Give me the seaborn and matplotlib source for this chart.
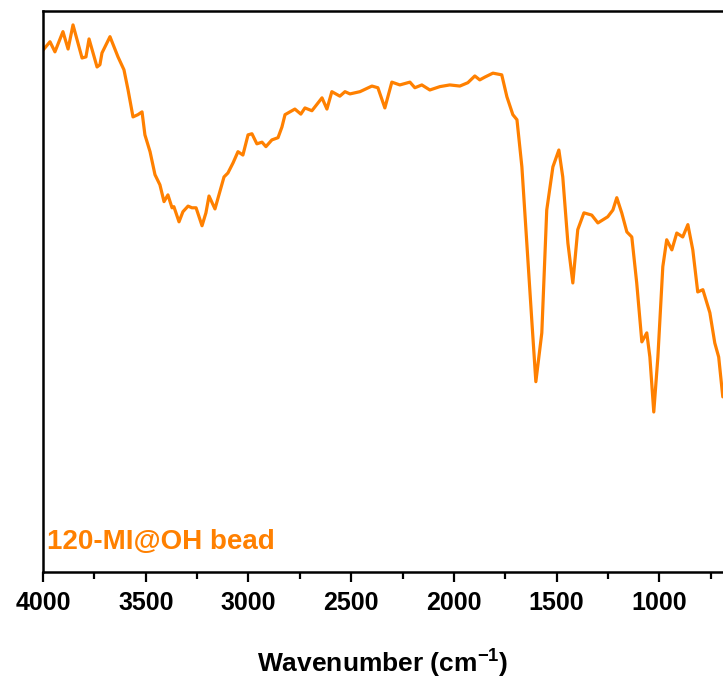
import pandas as pd
import matplotlib.pyplot as plt
import seaborn as sns

# FTIR spectrum of 120-MI@OH bead
wavenumber = [
    4000, 3966, 3942, 3903, 3878, 3854, 3810, 3791, 3776, 3737, 3723, 3713, 3674,
    3635, 3606, 3586, 3562, 3538, 3518, 3504, 3479, 3455, 3431, 3411, 3392, 3372,
    3363, 3338, 3319, 3294, 3275, 3255, 3226, 3207, 3192, 3163, 3119, 3100, 3075,
    3051, 3027, 3002, 2983, 2959, 2934, 2915, 2886, 2856, 2837, 2822, 2774, 2745,
    2725, 2691, 2642, 2618, 2594, 2555, 2530, 2506, 2457, 2399, 2370, 2336, 2302,
    2263, 2214, 2190, 2156, 2117, 2068, 2020, 1971, 1932, 1898, 1874, 1849, 1810,
    1767, 1742, 1713, 1693, 1669, 1645, 1620, 1601, 1572, 1548, 1518, 1489, 1470,
    1445, 1421, 1397, 1367, 1329, 1299, 1251, 1226, 1207, 1183, 1158, 1134, 1110,
    1085, 1061, 1046, 1027, 1007, 983, 964, 939, 915, 886, 861, 837, 813, 788,
    754, 730, 711, 691,
]
transmittance = [
    93.0, 94.5, 92.7, 96.3, 93.2, 97.5, 91.6, 91.8, 95.0, 90.0, 90.4, 92.5, 95.4,
    91.8, 89.5, 85.9, 81.1, 81.5, 82.0, 77.9, 74.9, 70.8, 69.0, 66.0, 67.2, 64.9,
    65.1, 62.4, 64.2, 65.2, 64.9, 64.9, 61.7, 64.0, 67.0, 64.7, 70.4, 71.1, 72.9,
    74.9, 74.3, 77.9, 78.1, 76.3, 76.6, 75.8, 77.0, 77.4, 79.3, 81.5, 82.5, 81.6,
    82.7, 82.2, 84.5, 82.5, 85.6, 84.8, 85.6, 85.2, 85.6, 86.6, 86.3, 82.7, 87.3,
    86.8, 87.3, 86.3, 86.8, 85.9, 86.5, 86.8, 86.6, 87.2, 88.4, 87.7, 88.2, 88.9,
    88.6, 84.7, 81.5, 80.6, 72.2, 58.6, 44.4, 33.9, 42.6, 64.5, 72.2, 75.2, 70.4,
    58.6, 51.5, 61.0, 64.0, 63.6, 62.2, 63.3, 64.5, 66.7, 64.0, 60.6, 59.7, 51.5,
    41.0, 42.6, 38.3, 28.5, 38.3, 54.4, 59.2, 57.4, 60.4, 59.7, 61.9, 57.4, 49.9,
    50.3, 46.2, 40.8, 38.3, 31.2,
]
sample_label = "120-MI@OH bead"

df = pd.DataFrame({"wn": wavenumber, "T": transmittance})

sns.set_style("ticks")
plt.rcParams["font.family"] = ["Liberation Sans", "DejaVu Sans"]
plt.rcParams["font.weight"] = "bold"
plt.rcParams["text.color"] = "black"
plt.rcParams["axes.labelcolor"] = "black"
plt.rcParams["xtick.color"] = "black"
plt.rcParams["mathtext.fontset"] = "custom"
plt.rcParams["mathtext.rm"] = "Liberation Sans:bold"
plt.rcParams["mathtext.bf"] = "Liberation Sans:bold"

orange = "#FF8000"

fig = plt.figure(figsize=(7.23, 6.8), dpi=100)
ax = fig.add_axes([0.0595, 0.159, 0.9405, 0.825])

sns.lineplot(data=df, x="wn", y="T", ax=ax, color=orange, linewidth=2.3,
             sort=False, solid_joinstyle="round", solid_capstyle="round")

ax.set_xlim(4000, 690)
ax.set_ylim(0, 100)
ax.set_xticks([4000, 3500, 3000, 2500, 2000, 1500, 1000])
ax.set_xticks([3750, 3250, 2750, 2250, 1750, 1250, 750], minor=True)
ax.set_yticks([])
ax.set_ylabel("")
ax.set_xlabel("Wavenumber (cm$^{\\mathbf{-1}}$)", fontsize=19, fontweight="bold", labelpad=22)

for lbl in ax.get_xticklabels():
    lbl.set_fontweight("bold")
ax.tick_params(axis="x", which="major", length=7, width=1.6, labelsize=18, pad=7, direction="out")
ax.tick_params(axis="x", which="minor", length=5, width=1.6, direction="out")

for side in ["left", "top", "bottom"]:
    ax.spines[side].set_linewidth(1.8)
    ax.spines[side].set_color("black")
ax.spines["right"].set_visible(False)

ax.text(0.006, 0.03, sample_label, transform=ax.transAxes, color=orange,
        fontsize=20, fontweight="bold", ha="left", va="bottom")

fig.savefig("out.png", dpi=100)
